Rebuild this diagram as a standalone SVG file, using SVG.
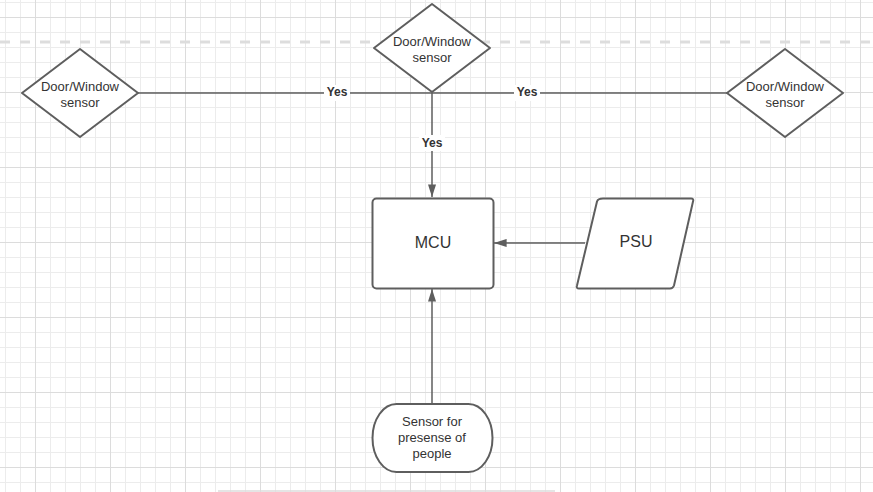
<svg xmlns="http://www.w3.org/2000/svg" width="873" height="492" viewBox="0 0 873 492">
<style>
.shape{fill:#ffffff;stroke:#5e5e5e;stroke-width:2;stroke-linejoin:round}
.conn{fill:none;stroke:#5e5e5e;stroke-width:1.5}
.lbl{font-family:"Liberation Sans",Arial,sans-serif;fill:#333333;text-anchor:middle;dominant-baseline:central}
.t13{font-size:13px}
.t16{font-size:16px}
.yes{font-size:12px;font-weight:bold}
</style>
<defs>
<pattern id="minor" x="5" y="2" width="15" height="15" patternUnits="userSpaceOnUse">
<path d="M0.5 0 V15 M0 0.5 H15" stroke="#ececec" stroke-width="1" fill="none"/>
</pattern>
<pattern id="major" x="35" y="17" width="75" height="75" patternUnits="userSpaceOnUse">
<path d="M0.5 0 V75 M0 0.5 H75" stroke="#dcdcdc" stroke-width="1" fill="none"/>
</pattern>
<marker id="arrow" viewBox="0 0 10 10" refX="10" refY="5" markerWidth="10" markerHeight="10" markerUnits="userSpaceOnUse" orient="auto">
<path d="M0 0.5 L10 5 L0 9.5 Z" fill="#5e5e5e"/>
</marker>
<marker id="arrowL" viewBox="0 0 14 10" refX="14" refY="5" markerWidth="14" markerHeight="9" markerUnits="userSpaceOnUse" orient="auto">
<path d="M0 0.5 L14 5 L0 9.5 Z" fill="#5e5e5e"/>
</marker>
</defs>
<rect width="873" height="492" fill="#ffffff"/>
<rect width="873" height="492" fill="url(#minor)"/>
<rect width="873" height="492" fill="url(#major)"/>
<line x1="0" y1="42" x2="873" y2="42" stroke="#dddddd" stroke-width="3" stroke-dasharray="10 10"/>
<line x1="218" y1="491" x2="555" y2="491" stroke="#dddddd" stroke-width="1.5"/>

<g id="connectors">
<line class="conn" x1="138" y1="93" x2="727" y2="93"/>
<line class="conn" x1="432" y1="93" x2="432" y2="197" marker-end="url(#arrowL)"/>
<line class="conn" x1="585" y1="243" x2="494" y2="243" marker-end="url(#arrowL)"/>
<line class="conn" x1="432" y1="404" x2="432" y2="289" marker-end="url(#arrowL)"/>
<rect x="324" y="85" width="26" height="16" fill="#ffffff"/>
<text class="lbl yes" x="337" y="92">Yes</text>
<rect x="514" y="85" width="26" height="16" fill="#ffffff"/>
<text class="lbl yes" x="527" y="92">Yes</text>
<rect x="419" y="135" width="26" height="16" fill="#ffffff"/>
<text class="lbl yes" x="432" y="143">Yes</text>
</g>

<g id="sensor-left">
<path class="shape" d="M80 49 L138 93 L80 137 L22 93 Z"/>
<text class="lbl t13" x="80" y="86">Door/Window</text>
<text class="lbl t13" x="80" y="102">sensor</text>
</g>
<g id="sensor-top">
<path class="shape" d="M432 4 L490 48 L432 92 L374 48 Z"/>
<text class="lbl t13" x="432" y="41">Door/Window</text>
<text class="lbl t13" x="432" y="57">sensor</text>
</g>
<g id="sensor-right">
<path class="shape" d="M785 49 L843 93 L785 137 L727 93 Z"/>
<text class="lbl t13" x="785" y="86">Door/Window</text>
<text class="lbl t13" x="785" y="102">sensor</text>
</g>
<g id="mcu">
<rect class="shape" x="372.5" y="198.5" width="121" height="90" rx="4"/>
<text class="lbl t16" x="433" y="242">MCU</text>
</g>
<g id="psu">
<path class="shape" d="M603 198.5 L691 198.5 Q694 198.5 693 201.5 L674 285.5 Q673 288.5 670 288.5 L579 288.5 Q576 288.5 577 285.5 L597 201.5 Q598 198.5 603 198.5 Z"/>
<text class="lbl t16" x="636" y="241">PSU</text>
</g>
<g id="presence-sensor">
<rect class="shape" x="372.5" y="404" width="120" height="68" rx="24" ry="34"/>
<text class="lbl t13" x="432" y="421">Sensor for</text>
<text class="lbl t13" x="432" y="437">presense of</text>
<text class="lbl t13" x="432" y="453">people</text>
</g>
</svg>
